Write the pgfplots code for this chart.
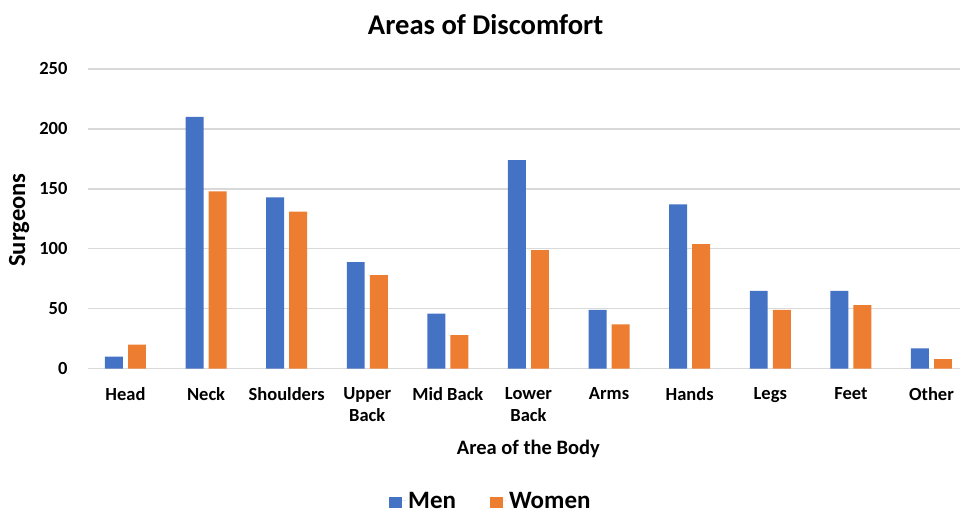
\documentclass[border=0pt]{standalone}
\usepackage{fontspec}
\setmainfont{Carlito}
\usepackage{pgfplots}
\pgfplotsset{compat=1.18}
\definecolor{menblue}{HTML}{4472C4}
\definecolor{womorange}{HTML}{ED7D31}
\definecolor{gridgray}{HTML}{D9D9D9}
\begin{document}
\begin{tikzpicture}[x=1pt,y=1pt]
\useasboundingbox (0,0) rectangle (962,513);
\begin{axis}[
  at={(88pt,144.3pt)}, anchor=south west,
  scale only axis, width=872pt, height=299.7pt,
  xmin=-0.465, xmax=10.354, ymin=0, ymax=250,
  ytick={0,50,...,250},
  xtick={0,...,10},
  xticklabels={Head,Neck,Shoulders,{Upper\\Back},Mid Back,{Lower\\Back},Arms,Hands,Legs,Feet,Other},
  axis x line*=bottom, axis y line*=left,
  x axis line style={gridgray, line width=1.3pt},
  y axis line style={draw=none},
  major tick length=0pt,
  ymajorgrids, grid style={gridgray, line width=1.3pt},
  ybar, bar width=0.223,
  /pgf/number format/assume math mode=true,
  xticklabel style={font=\bfseries\fontsize{18.5}{22.5}\selectfont, align=center, yshift=-15pt},
  yticklabel style={font=\bfseries\fontsize{18.5}{22}\selectfont, xshift=-17pt},
  xlabel={Area of the Body},
  xlabel style={font=\bfseries\fontsize{20.5}{24}\selectfont, at={(axis description cs:0.505,-0.268)}, anchor=center},
  ylabel={Surgeons},
  ylabel style={font=\bfseries\fontsize{24.6}{29}\selectfont, at={(axis description cs:-0.079,0.496)}, anchor=center},
  title={Areas of Discomfort},
  title style={font=\bfseries\fontsize{28.6}{34}\selectfont, at={(axis description cs:0.456,1.127)}, anchor=center},
  legend style={at={(axis description cs:0.462,-0.441)}, anchor=center, draw=none,
    legend columns=-1, font=\bfseries\fontsize{25}{29}\selectfont, inner sep=0pt,
    /tikz/every even column/.append style={column sep=32pt}},
]
\addplot[fill=menblue, draw=none, bar shift=-0.143,
  legend image code/.code={\fill[menblue] (0pt,-7.5pt) rectangle (13pt,4pt); \path (0pt,0pt) -- (17pt,0pt);}]
  coordinates {(0,10) (1,210) (2,143) (3,89) (4,46) (5,174) (6,49) (7,137) (8,65) (9,65) (10,17)};
\addplot[fill=womorange, draw=none, bar shift=0.143,
  legend image code/.code={\fill[womorange] (0pt,-7.5pt) rectangle (13pt,4pt); \path (0pt,0pt) -- (17pt,0pt);}]
  coordinates {(0,20) (1,148) (2,131) (3,78) (4,28) (5,99) (6,37) (7,104) (8,49) (9,53) (10,8)};
\legend{Men,Women}
\end{axis}
\end{tikzpicture}
\end{document}
